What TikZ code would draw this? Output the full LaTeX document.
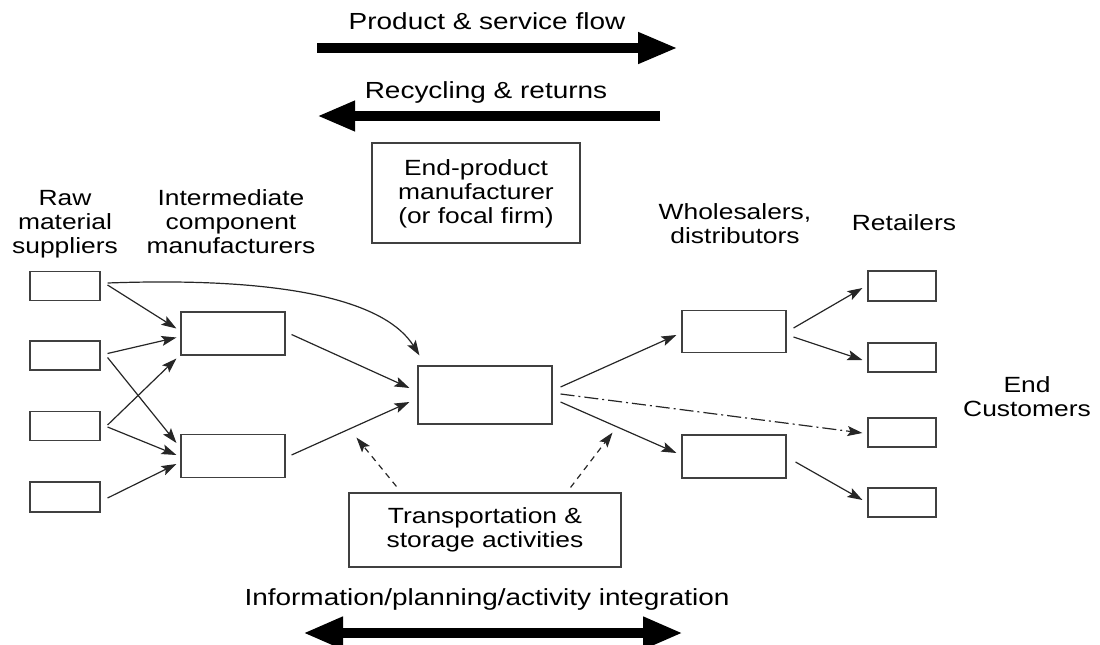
\documentclass[tikz,border=0pt]{standalone}
\usepackage{fontspec}
\setmainfont{Liberation Sans}[FakeStretch=1.2]
\usetikzlibrary{arrows.meta,calc}
\begin{document}
\begin{tikzpicture}[x=1pt,y=-1pt,
  font=\fontsize{22}{24}\selectfont,
  box/.style={draw=black!75, line width=1.1pt, fill=white, inner sep=0pt},
  lbl/.style={align=center, inner sep=0pt},
  toplbl/.style={lbl, anchor=base, font=\fontsize{23.3}{26}\selectfont},
  arr/.style={-{Stealth[length=15pt,width=10pt,inset=3pt]}, line width=1.2pt, black!85},
  dsh/.style={arr, dash pattern=on 6pt off 5pt},
  dshdot/.style={arr, dash pattern=on 14pt off 4pt on 2pt off 4pt},
  big/.style={line width=10pt, black}]
\useasboundingbox (0,0) rectangle (1100,645);

% big flow arrows
\coordinate (p1) at (317,48);
\coordinate (p2) at (678,48);
\draw[big, -{Triangle[length=40pt,width=29pt]}] (p1) -- (p2);
\node[toplbl] (ptext) at (487,29) {Product \& service flow};

\coordinate (q1) at (660,116);
\coordinate (q2) at (317,116);
\draw[big, -{Triangle[length=38pt,width=28pt]}] (q1) -- (q2);
\node[toplbl] (qtext) at (486,98) {Recycling \& returns};

\coordinate (s1) at (303,633);
\coordinate (s2) at (683,633);
\draw[big, {Triangle[length=40pt,width=30pt]}-{Triangle[length=40pt,width=30pt]}] (s1) -- (s2);
\node[toplbl] (itext) at (487,605) {Information/planning/activity integration};

% column labels
\node[lbl] (lraw) at (65,224) {Raw\\material\\suppliers};
\node[lbl] (lint) at (231,222) {Intermediate\\component\\manufacturers};
\node[lbl] (lwh) at (735,224) {Wholesalers,\\distributors};
\node[lbl, anchor=base] (lret) at (904,230) {Retailers};
\node[lbl] (lend) at (1027,397) {End\\Customers};

% boxes
\node[box, minimum width=208pt, minimum height=100pt] (ep) at (476,193) {};
\node[lbl] (eptext) at (476,194) {End-product\\manufacturer\\(or focal firm)};
\node[box, minimum width=272pt, minimum height=74pt, align=center] (tr) at (485,530) {Transportation \&\\storage activities};

\node[box, minimum width=70pt, minimum height=29pt] (r1) at (65,286) {};
\node[box, minimum width=70pt, minimum height=29pt] (r2) at (65,355.5) {};
\node[box, minimum width=70pt, minimum height=29pt] (r3) at (65,426) {};
\node[box, minimum width=70pt, minimum height=30pt] (r4) at (65,497) {};

\node[box, minimum width=104pt, minimum height=43pt] (i1) at (233,333.5) {};
\node[box, minimum width=104pt, minimum height=43pt] (i2) at (233,456) {};

\node[box, minimum width=134pt, minimum height=58pt] (f) at (485,395) {};

\node[box, minimum width=104pt, minimum height=42pt] (w1) at (734,331.5) {};
\node[box, minimum width=104pt, minimum height=43pt] (w2) at (734,456.5) {};

\node[box, minimum width=68pt, minimum height=30pt] (t1) at (902,286) {};
\node[box, minimum width=68pt, minimum height=29pt] (t2) at (902,357.5) {};
\node[box, minimum width=68pt, minimum height=29pt] (t3) at (902,432.5) {};
\node[box, minimum width=68pt, minimum height=29pt] (t4) at (902,502.5) {};

% raw -> intermediate
\draw[arr] ($(r1.east)+(7,-1)$) -- ($(i1.west)+(-4,-5)$);
\draw[arr] ($(r2.east)+(7,-2)$) -- ($(i1.west)+(-4,4)$);
\draw[arr] ($(r2.east)+(7,2)$) -- ($(i2.west)+(-4,-13)$);
\draw[arr] ($(r3.east)+(7,-1)$) -- ($(i1.west)+(-4,25)$);
\draw[arr] ($(r3.east)+(7,1)$) -- ($(i2.west)+(-4,-1)$);
\draw[arr] ($(r4.east)+(7,1)$) -- ($(i2.west)+(-4,8)$);
% raw -> focal (curved)
\draw[arr] ($(r1.east)+(7,-3)$) .. controls (300,276) and (388,305) .. ($(f.north west)+(2,-10)$);

% intermediate -> focal
\draw[arr] ($(i1.east)+(6,1)$) -- ($(f.west)+(-8,-7)$);
\draw[arr] ($(i2.east)+(6,-1)$) -- ($(f.west)+(-8,7)$);

% transportation -> focal (dashed)
\draw[dsh] ($(tr.north west)+(48,-6)$) -- ($(f.south west)+(-61,13)$);
\draw[dsh] ($(tr.north east)+(-51,-5)$) -- ($(f.south east)+(60,8)$);

% focal -> wholesalers / retailer
\draw[arr] ($(f.east)+(8,-8)$) -- ($(w1.west)+(-5,3.5)$);
\draw[arr] ($(f.east)+(8,7)$) -- ($(w2.west)+(-5,-3.5)$);
\draw[dshdot] ($(f.east)+(8,-1)$) -- ($(t3.west)+(-5,0.5)$);

% wholesalers -> retailers
\draw[arr] ($(w1.east)+(7,-3.5)$) -- ($(t1.west)+(-5,2)$);
\draw[arr] ($(w1.east)+(7,5.5)$) -- ($(t2.west)+(-5,2.5)$);
\draw[arr] ($(w2.east)+(9,5.5)$) -- ($(t4.west)+(-5,-2.5)$);
\end{tikzpicture}
\end{document}
